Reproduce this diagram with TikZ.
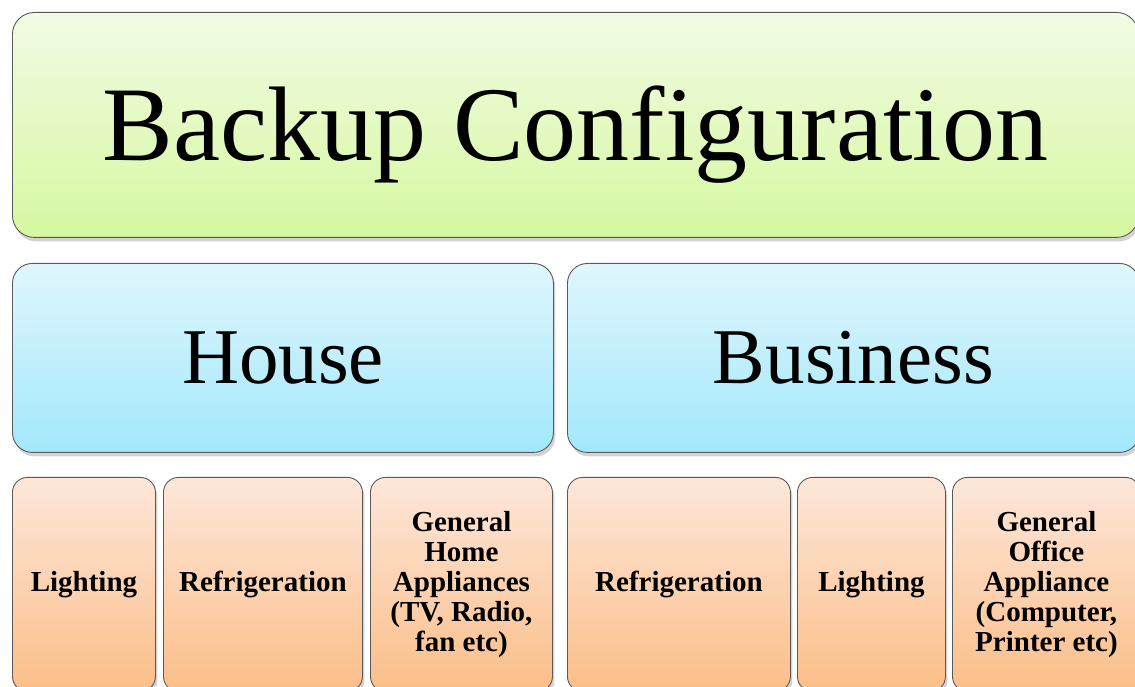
\documentclass[tikz,border=0pt]{standalone}
\usepackage{fontspec}
\setmainfont{Liberation Serif}
\usetikzlibrary{shadows}
\definecolor{edgec}{HTML}{5A5A5A}
\definecolor{gtop}{HTML}{F2FBE4}
\definecolor{gbot}{HTML}{D6F8A0}
\definecolor{btop}{HTML}{E0F6FD}
\definecolor{bbot}{HTML}{A2E8FB}
\definecolor{otop}{HTML}{FDE7DA}
\definecolor{obot}{HTML}{FBBE88}
\tikzset{
  box/.style={draw=edgec, line width=0.9pt, rounded corners=#1, anchor=north west,
    drop shadow={opacity=0.35, shadow xshift=2pt, shadow yshift=-4pt}, inner sep=0pt, align=center},
  greenbox/.style={box=22pt, top color=gtop, bottom color=gbot},
  bluebox/.style={box=20pt, top color=btop, bottom color=bbot},
  orangebox/.style={box=15pt, top color=otop, bottom color=obot},
  bigtxt/.style={font=\fontsize{106}{110}\selectfont, text height=90pt, text depth=19pt},
  midtxt/.style={font=\fontsize{79}{84}\selectfont},
  smalltxt/.style={font=\fontsize{29}{30}\selectfont\bfseries},
}
\begin{document}
\begin{tikzpicture}[x=1pt,y=1pt]
\useasboundingbox (0,0) rectangle (1135,687);
\clip (0,0) rectangle (1135,687);
% top
\node[greenbox, minimum width=1126pt, minimum height=225pt, bigtxt] (top) at (12,675) {Backup Configuration};
% second row
\node[bluebox, minimum width=541pt, minimum height=189pt, midtxt] (house) at (12,424) {House};
\node[bluebox, minimum width=572pt, minimum height=189pt, midtxt] (business) at (567,424) {Business};
% bottom row
\node[orangebox, minimum width=143pt, minimum height=214pt, smalltxt] (l1) at (12,210) {Lighting};
\node[orangebox, minimum width=199pt, minimum height=214pt, smalltxt] (r1) at (163,210) {Refrigeration};
\node[orangebox, minimum width=182pt, minimum height=214pt, smalltxt] (g1) at (370,210) {General\\Home\\Appliances\\(TV, Radio,\\fan etc)};
\node[orangebox, minimum width=223pt, minimum height=214pt, smalltxt] (r2) at (567,210) {Refrigeration};
\node[orangebox, minimum width=148pt, minimum height=214pt, smalltxt] (l2) at (797,210) {Lighting};
\node[orangebox, minimum width=188pt, minimum height=214pt, smalltxt] (g2) at (952,210) {General\\Office\\Appliance\\(Computer,\\Printer etc)};
\end{tikzpicture}
\end{document}
